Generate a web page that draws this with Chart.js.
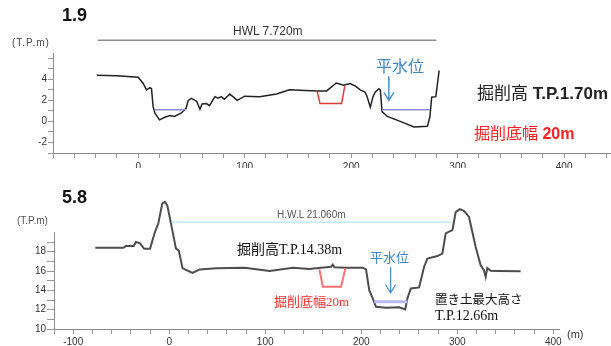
<!DOCTYPE html>
<html><head><meta charset="utf-8">
<script src="https://cdn.jsdelivr.net/npm/chart.js@4.4.0/dist/chart.umd.min.js"></script>
<style>
html,body{margin:0;padding:0;background:#fff;width:611px;height:346px;overflow:hidden;position:relative;font-family:"Liberation Sans",Arial,sans-serif;}
#topWrap{position:absolute;left:0;top:0;width:611px;height:168px;overflow:hidden;}
#botWrap{position:absolute;left:0;top:168px;width:611px;height:178px;overflow:hidden;}
canvas{display:block;}
.t{position:absolute;white-space:nowrap;line-height:1;}
.jp{font-family:"Noto Sans CJK JP",sans-serif;}
.mix{font-family:"Liberation Serif","Noto Sans CJK JP",serif;}
</style></head>
<body>
<div id="topWrap"><canvas id="c1" width="611" height="185"></canvas></div>
<div id="botWrap"><canvas id="c2" width="611" height="178"></canvas></div>

<div class="t" style="left:62px;top:6px;font-size:18px;font-weight:bold;color:#111;">1.9</div>
<div class="t" style="left:12px;top:38px;font-size:10px;color:#444;letter-spacing:1px;">(T.P.m)</div>
<div class="t" style="left:233px;top:25px;font-size:12px;color:#333;">HWL 7.720m</div>
<div class="t jp" style="left:376px;top:57px;font-size:16px;color:#3f87c8;">平水位</div>
<div class="t" style="left:477px;top:85px;font-size:17px;color:#222;"><span class="mix">掘削高</span> <b>T.P.1.70m</b></div>
<div class="t" style="left:474px;top:126px;font-size:16px;color:#ff2020;"><span class="mix">掘削底幅</span> <b>20m</b></div>

<div class="t" style="left:62px;top:188px;font-size:18px;font-weight:bold;color:#111;">5.8</div>
<div class="t" style="left:17px;top:216px;font-size:10px;color:#555;">(T.P.m)</div>
<div class="t" style="left:277px;top:210px;font-size:10px;color:#555;">H.W.L 21.060m</div>
<div class="t mix" style="left:237px;top:243px;font-size:14px;color:#111;">掘削高T.P.14.38m</div>
<div class="t jp" style="left:370px;top:250px;font-size:13px;color:#3f87c8;">平水位</div>
<div class="t mix" style="left:274px;top:295px;font-size:13px;color:#ff3030;">掘削底幅20m</div>
<div class="t jp" style="left:435px;top:293px;font-size:12.5px;color:#111;">置き土最大高さ</div>
<div class="t mix" style="left:435px;top:309px;font-size:14px;color:#111;">T.P.12.66m</div>
<div class="t" style="left:567px;top:329px;font-size:11px;color:#333;">(m)</div>

<script>
// ---------- Section 1.9 ----------
const top_profileX = [-39,-20,0,4.7,7.8,11,12.5,14,15.6,20,25,30,34,40.6,45,47,50,55,58,60,64,67,72,75,78,81,86,89,93,100,114,130,142,152,167.5,177,186,193,199,204,208.5,213,215,218,220.5,222.7,226,227.4,229,234,246,259,271.6,274,275.6,279.5,282.6];
const top_profileY = [4.38,4.35,4.2,3.6,3.0,3.2,3.1,1.4,0.8,0.15,0.4,0.56,0.47,0.8,1.25,2.0,2.2,1.9,1.15,1.65,1.7,1.5,2.35,2.2,2.35,2.1,2.6,2.35,2.0,2.4,2.35,2.6,3.0,2.95,2.9,2.9,3.65,3.45,3.6,3.35,3.0,2.8,2.35,1.35,2.35,2.8,3.1,2.97,0.94,0.47,0.0,-0.53,-0.47,0.47,2.3,2.35,4.84];
const top_hwlX = [-38, 280];
const top_hwlY = 7.72;
const top_water1X = [15.6, 45];
const top_water2X = [229, 274];
const top_waterY = 1.1;
const top_cutX = [168, 170.7, 191, 194];
const top_cutY = [2.9, 1.7, 1.7, 3.35];
const top_arrow = [235.4, 4.3, 2.0];
const top_yTicks = [-3,-2,-1,0,1,2,3,4,5,6];
const top_yLabels = [-2,0,2,4];
const top_xTicks = [-80,-60,-40,-20,0,20,40,60,80,100,120,140,160,180,200,220,240,260,280,300,320,340,360,380,400,420,440];
const top_xLabels = [0,100,200,300,400];

// ---------- Section 5.8 ----------
const bot_profileX = [-77,-47.7,-45,-37,-34.6,-30.4,-26,-20,-14.8,-11.4,-7.2,-4.5,-2,2.5,7,10,13.9,18,24.3,32,49,78.6,104.6,128.8,146,153,163.4,168.6,170.3,172,184,201.5,205,208.4,211.9,215.4,225.8,239.6,245.8,248.2,251.7,260.3,265.5,269,279.3,284.5,288,291.5,295,298.4,302.6,307,312.3,315.7,319.2,324.4,327.8,329.6,331.3,334.8,343.4,366];
const bot_profileY = [18.4,18.4,18.6,18.6,19.0,18.86,18.3,18.3,20.07,20.9,23.0,23.17,22.8,20.6,18.35,18.1,16.3,16.1,15.8,16.17,16.3,16.35,16.0,16.35,16.2,16.3,16.4,16.45,16.65,16.4,16.35,16.35,16.17,14.0,13.2,12.3,12.2,12.25,12.03,13.2,14.2,14.3,16.45,17.3,17.55,17.8,19.9,20.07,20.24,22.1,22.4,22.24,21.6,20.07,18.5,16.6,16.1,15.4,16.3,16.03,16.0,15.97];
const bot_hwlX = [2.5, 293];
const bot_hwlY = 21.06;
const bot_waterX = [213.6, 248.2];
const bot_waterY = 12.83;
const bot_cutX = [156.5, 160, 179, 183.5];
const bot_cutY = [16.17, 14.38, 14.38, 16.3];
const bot_arrow = [230.6, 16.4, 13.75];
const bot_yTicks = [10,11,12,13,14,15,16,17,18,19];
const bot_yLabels = [10,12,14,16,18];
const bot_xTicks = [-120,-100,-80,-60,-40,-20,0,20,40,60,80,100,120,140,160,180,200,220,240,260,280,300,320,340,360,380,400];
const bot_xLabels = [-100,0,100,200,300,400];

function pts(xs, ys){ return xs.map((x,i)=>({x, y: Array.isArray(ys)?ys[i]:ys})); }
function ds(data, color, width){
  return {data, borderColor:color, borderWidth:width, pointRadius:0, showLine:true, fill:false, tension:0, clip:false};
}
const arrowPlugin = {
  id:'arrow',
  afterDatasetsDraw(chart, args, opts){
    const a = opts.a; if(!a) return;
    const xs = chart.scales.x, ys = chart.scales.y;
    const x = xs.getPixelForValue(a[0]), y1 = ys.getPixelForValue(a[1]), y2 = ys.getPixelForValue(a[2]);
    const ctx = chart.ctx; ctx.save();
    ctx.strokeStyle = opts.color; ctx.lineWidth = opts.w;
    ctx.beginPath(); ctx.moveTo(x,y1); ctx.lineTo(x,y2);
    ctx.moveTo(x-opts.hw,y2-opts.hh); ctx.lineTo(x,y2); ctx.lineTo(x+opts.hw,y2-opts.hh);
    ctx.stroke(); ctx.restore();
  }
};
function makeChart(id, cfg){
  return new Chart(document.getElementById(id), {
    type:'scatter',
    data:{datasets: cfg.datasets},
    plugins:[arrowPlugin],
    options:{
      responsive:false, animation:false, events:[],
      layout:{padding:{top:cfg.padTop, right:cfg.padRight, left:0, bottom:0}},
      plugins:{legend:{display:false}, tooltip:{enabled:false}, arrow:cfg.arrow},
      scales:{
        x:{type:'linear', min:cfg.xMin, max:cfg.xMax,
          afterFit(s){ s.height = cfg.xH; },
          afterBuildTicks(s){ s.ticks = cfg.xTicks.map(v=>({value:v})); },
          border:{display:true, color:'#8a8a8a', width:1},
          grid:{drawOnChartArea:false, drawTicks:true, tickLength:5, color:'#9a9a9a'},
          ticks:{autoSkip:false, maxRotation:0, padding:cfg.xPad, color:'#333', font:{family:'Liberation Sans', size:10},
            callback:v=>cfg.xLabels.includes(v)?String(v):''}
        },
        y:{type:'linear', min:cfg.yMin, max:cfg.yMax,
          afterFit(s){ s.width = cfg.yW; },
          afterBuildTicks(s){ s.ticks = cfg.yTicks.map(v=>({value:v})); },
          border:{display:true, color:'#8a8a8a', width:1},
          grid:{drawOnChartArea:false, drawTicks:true, tickLength:cfg.yTL, color:'#9a9a9a'},
          ticks:{autoSkip:false, padding:1, color:'#333', font:{family:'Liberation Sans', size:10},
            callback:v=>cfg.yLabels.includes(v)?String(v):''}
        }
      }
    }
  });
}

makeChart('c1', {
  datasets:[
    ds(pts(top_hwlX, top_hwlY), '#555', 1),
    ds(pts(top_water1X, top_waterY), '#8c8cd8', 1.5),
    ds(pts(top_water2X, top_waterY), '#8c8cd8', 1.5),
    ds(pts(top_cutX, top_cutY), '#e03a3a', 1.5),
    ds(pts(top_profileX, top_profileY), '#222', 1.5)
  ],
  arrow:{a:top_arrow, color:'#4a8fd0', w:1.5, hw:5, hh:8},
  padTop:53, padRight:0, xH:32, yW:53, yTL:5, xPad:3,
  xMin:-80, xMax:444, yMin:-3, yMax:6.5,
  xTicks:top_xTicks, xLabels:top_xLabels, yTicks:top_yTicks, yLabels:top_yLabels
});

makeChart('c2', {
  datasets:[
    ds(pts(bot_hwlX, bot_hwlY), '#9fe6f4', 1),
    ds(pts(bot_waterX, bot_waterY), '#b8b8f5', 3),
    ds(pts(bot_cutX, bot_cutY), '#ff7070', 2),
    ds(pts(bot_profileX, bot_profileY), '#4d4d4d', 2)
  ],
  arrow:{a:bot_arrow, color:'#4a8fd0', w:1.3, hw:5, hh:8},
  padTop:64.4, padRight:52, xH:17, yW:54, yTL:7, xPad:2,
  xMin:-120, xMax:406, yMin:10, yMax:20,
  xTicks:bot_xTicks, xLabels:bot_xLabels, yTicks:bot_yTicks, yLabels:bot_yLabels
});
</script>
</body></html>
